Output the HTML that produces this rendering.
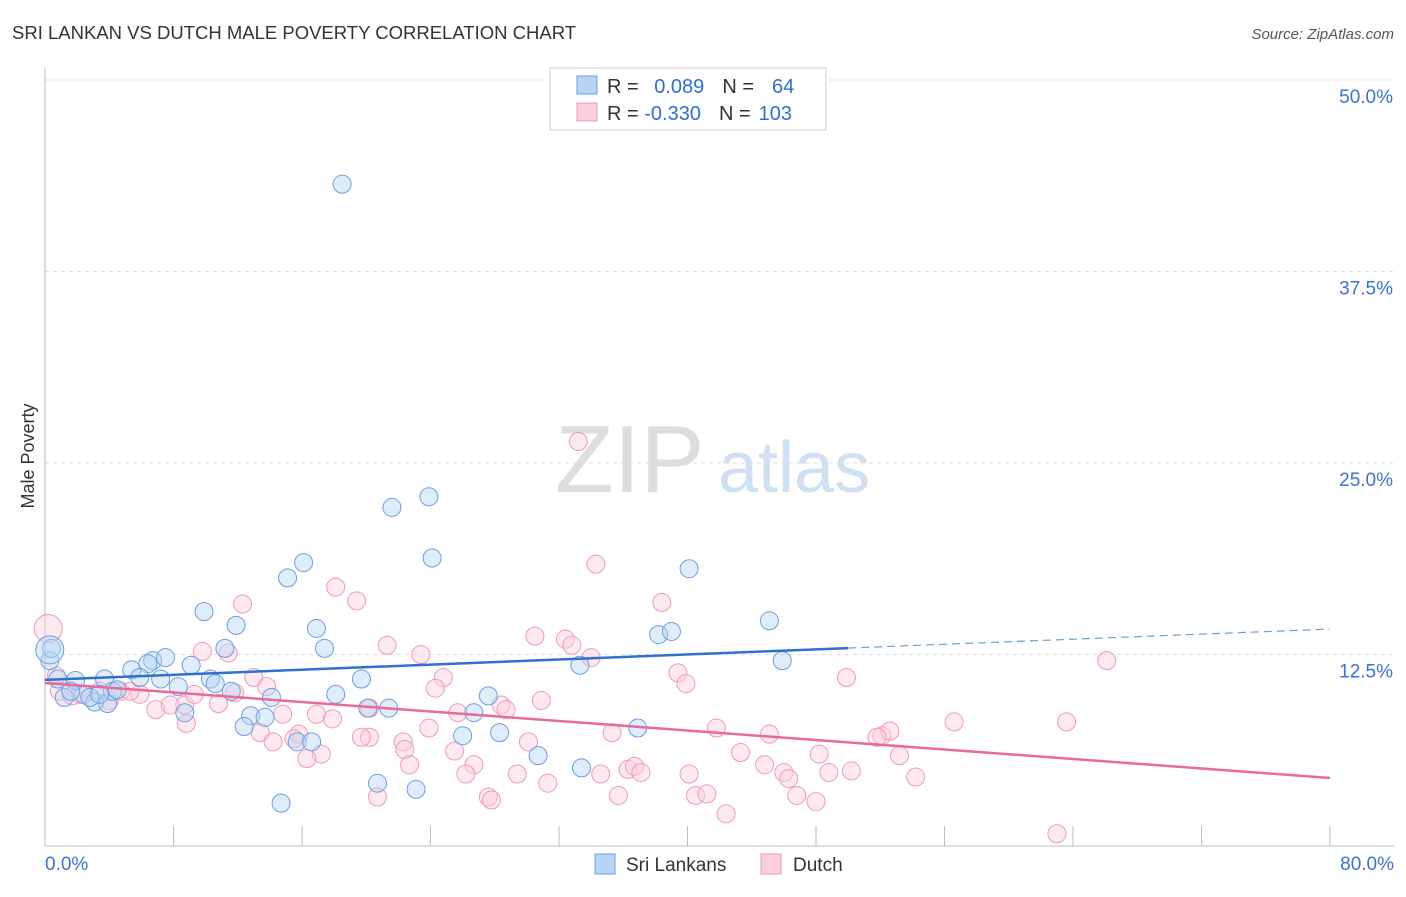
<!DOCTYPE html>
<html><head><meta charset="utf-8"><style>
body{margin:0;background:#fff;font-family:"Liberation Sans",sans-serif;}
svg text{font-family:"Liberation Sans",sans-serif;}
</style></head><body>
<svg width="1406" height="892" xmlns="http://www.w3.org/2000/svg">
<text x="12" y="39" font-size="18.5" fill="#333">SRI LANKAN VS DUTCH MALE POVERTY CORRELATION CHART</text>
<text x="1394" y="39" font-size="15" fill="#555" font-style="italic" text-anchor="end">Source: ZipAtlas.com</text>
<g>
<text x="555" y="492" font-size="96" fill="#ddd" font-family="Liberation Serif">ZIP</text>
<text x="718" y="492" font-size="72" fill="#cfe0f3">atlas</text>
</g>
<g id="grid"></g>
<g id="axes"></g>
<g id="marks"></g>
<g id="lines"></g>
<text x="34" y="456" font-size="18" fill="#333" text-anchor="middle" transform="rotate(-90 34 456)">Male Poverty</text>
<g>
<rect x="550" y="68" width="276" height="62" fill="#fff" stroke="#ccc"/>
<rect x="577" y="76" width="20" height="18" fill="#b8d4f5" stroke="#6a9ee0"/>
<rect x="577" y="103" width="20" height="18" fill="#fbcfdc" stroke="#ef9ab5"/>
<text x="607" y="93" font-size="20" fill="#333">R = <tspan fill="#2f6fd0" dx="10">0.089</tspan><tspan dx="18" fill="#333">N =</tspan><tspan dx="18" fill="#2f6fd0">64</tspan></text>
<text x="607" y="120" font-size="20" fill="#333">R = <tspan fill="#2f6fd0">-0.330</tspan><tspan dx="18" fill="#333">N =</tspan><tspan dx="8" fill="#2f6fd0">103</tspan></text>
</g>
<g>
<rect x="595" y="854" width="20" height="20" fill="#b8d4f5" stroke="#6a9ee0"/>
<text x="626" y="871" font-size="19" fill="#333">Sri Lankans</text>
<rect x="761" y="854" width="20" height="20" fill="#fbcfdc" stroke="#ef9ab5"/>
<text x="793" y="871" font-size="19" fill="#333">Dutch</text>
</g>
</svg>
<script>
const xTicks=[0,8,16,24,32,40,48,56,64,72,80];
const yTicks=[12.5,25,37.5,50];
const yTickLabels=["12.5%","25.0%","37.5%","50.0%"];
const sriX=[18.5,21.6,23.9,24.1,16.1,15.1,40.1,45.1,9.9,11.9,16.9,17.4,38.2,39.0,45.9,33.3,11.2,6.7,7.5,9.1,5.4,6.4,5.9,19.7,18.1,27.6,3.7,1.9,0.8,0.3,0.4,1.2,2.4,3.1,3.9,4.2,4.5,7.2,8.3,10.3,10.6,11.6,14.1,8.7,12.8,13.7,12.4,20.1,21.4,26.7,28.3,26.0,36.9,30.7,15.7,16.6,20.7,23.1,33.4,14.7,2.8,1.6,3.4];
const sriY=[43.2,22.1,22.8,18.8,18.5,17.5,18.1,14.7,15.3,14.4,14.2,12.9,13.8,14.0,12.1,11.8,12.9,12.1,12.3,11.8,11.5,11.9,11.0,10.9,9.9,9.8,10.9,10.8,10.9,12.1,12.9,9.7,9.9,9.4,9.3,10.1,10.2,10.9,10.4,10.9,10.6,10.1,9.7,8.7,8.5,8.4,7.8,9.0,9.0,8.7,7.4,7.2,7.7,5.9,6.8,6.8,4.1,3.7,5.1,2.8,9.7,10.1,9.9];
const dutX=[33.2,34.3,18.1,19.4,12.3,38.4,66.1,30.5,32.4,32.8,21.3,23.4,34.0,9.8,11.4,39.4,39.9,49.9,24.8,24.3,13.0,13.8,30.9,28.4,28.7,25.7,20.2,16.9,17.9,14.8,8.7,10.8,9.3,11.8,0.2,0.7,0.9,1.7,2.2,3.4,4.7,5.9,6.9,7.8,8.8,56.6,63.6,41.8,45.1,52.1,52.6,51.8,35.3,23.9,20.2,19.7,22.3,22.4,15.8,15.5,13.4,14.2,17.2,16.3,25.5,30.1,43.3,48.2,53.2,26.7,26.2,22.7,29.4,31.3,34.6,36.3,36.7,37.1,40.1,44.8,46.0,46.3,48.8,50.2,54.2,20.7,27.6,27.8,35.7,40.5,41.2,46.8,48.0,42.4,63.0,5.3,4.0];
const dutY=[26.4,18.4,16.9,16.0,15.8,15.9,12.1,13.7,13.5,13.1,13.1,12.5,12.3,12.7,12.6,11.3,10.6,11.0,11.0,10.3,11.0,10.4,9.5,9.2,8.9,8.7,9.0,8.6,8.3,8.6,9.2,9.3,9.9,10.0,14.2,11.1,10.1,9.8,9.9,10.1,10.1,9.9,8.9,9.2,8.0,8.1,8.1,7.7,7.3,7.2,7.5,7.1,7.4,7.7,7.1,7.1,6.8,6.3,7.3,7.0,7.4,6.8,6.0,5.7,6.2,6.8,6.1,6.0,5.9,5.3,4.7,5.3,4.7,4.1,4.7,5.0,5.2,4.8,4.7,5.3,4.8,4.4,4.8,4.9,4.5,3.2,3.2,3.0,3.3,3.3,3.4,3.3,2.9,2.1,0.8,10.1,9.5];
const sriTrend=[10.84,12.92,14.16];const sriTrendX=[0,50,80];
const dutTrend=[10.64,4.44];const dutTrendX=[0,80];
const NS="http://www.w3.org/2000/svg";
const X=v=>45+v*(1285/80), Y=v=>846-v*15.32;
function mk(t,a,p){const e=document.createElementNS(NS,t);for(const k in a)e.setAttribute(k,a[k]);p.appendChild(e);return e;}
const grid=document.getElementById('grid'),axes=document.getElementById('axes'),marks=document.getElementById('marks'),lines=document.getElementById('lines');
yTicks.forEach((t,i)=>{
 const l=mk('line',{x1:45,x2:1394,y1:Y(t),y2:Y(t),stroke:'#ddd','stroke-dasharray':'4,4'},grid);
 
 
 const tx=mk('text',{x:1393,y:Y(t)+23,'font-size':19,fill:'#3b73d0','text-anchor':'end'},axes);
 tx.textContent=yTickLabels[i];
 
 
});
const ax=mk('line',{x1:45,x2:1394,y1:846,y2:846,stroke:'#bbb'},axes);


const ay=mk('line',{x1:45,x2:45,y1:68,y2:846,stroke:'#bbb'},axes);


xTicks.forEach(t=>{const l=mk('line',{x1:X(t),x2:X(t),y1:826,y2:846,stroke:'#bbb'},axes);
 
 });
[[0,'0.0%','start',45],[80,'80.0%','end',1394]].forEach(d=>{const tx=mk('text',{x:d[3],y:870,'font-size':19,fill:'#3b73d0','text-anchor':d[2]},axes);tx.textContent=d[1];
 
 });
function pts(xs,ys,fill,stroke,name){xs.forEach((x,i)=>{const r=(i===34&&name==='dutch-point')?14:9;
 const c=mk('circle',{cx:X(x),cy:Y(ys[i]),r:r,fill:fill,'fill-opacity':0.45,stroke:stroke,'stroke-width':1},marks);
 
 });}
pts(dutX,dutY,'#fbcfdc','#ef9ab5','dutch-point');
pts(sriX,sriY,'#b8d4f5','#6a9ee0','sri-lankan-point');
const big=mk('circle',{cx:X(0.3),cy:Y(12.8),r:14,fill:'#b8d4f5','fill-opacity':0.45,stroke:'#6a9ee0'},marks);


const s1=mk('line',{x1:X(sriTrendX[0]),y1:Y(sriTrend[0]),x2:X(sriTrendX[1]),y2:Y(sriTrend[1]),stroke:'#2f6fd0','stroke-width':2.5},lines);


const s2=mk('line',{x1:X(sriTrendX[1]),y1:Y(sriTrend[1]),x2:X(sriTrendX[2]),y2:Y(sriTrend[2]),stroke:'#6a9ee0','stroke-width':1.2,'stroke-dasharray':'8,5'},lines);


const d1=mk('line',{x1:X(dutTrendX[0]),y1:Y(dutTrend[0]),x2:X(dutTrendX[1]),y2:Y(dutTrend[1]),stroke:'#e8699a','stroke-width':2.5},lines);


</script>
</body></html>
